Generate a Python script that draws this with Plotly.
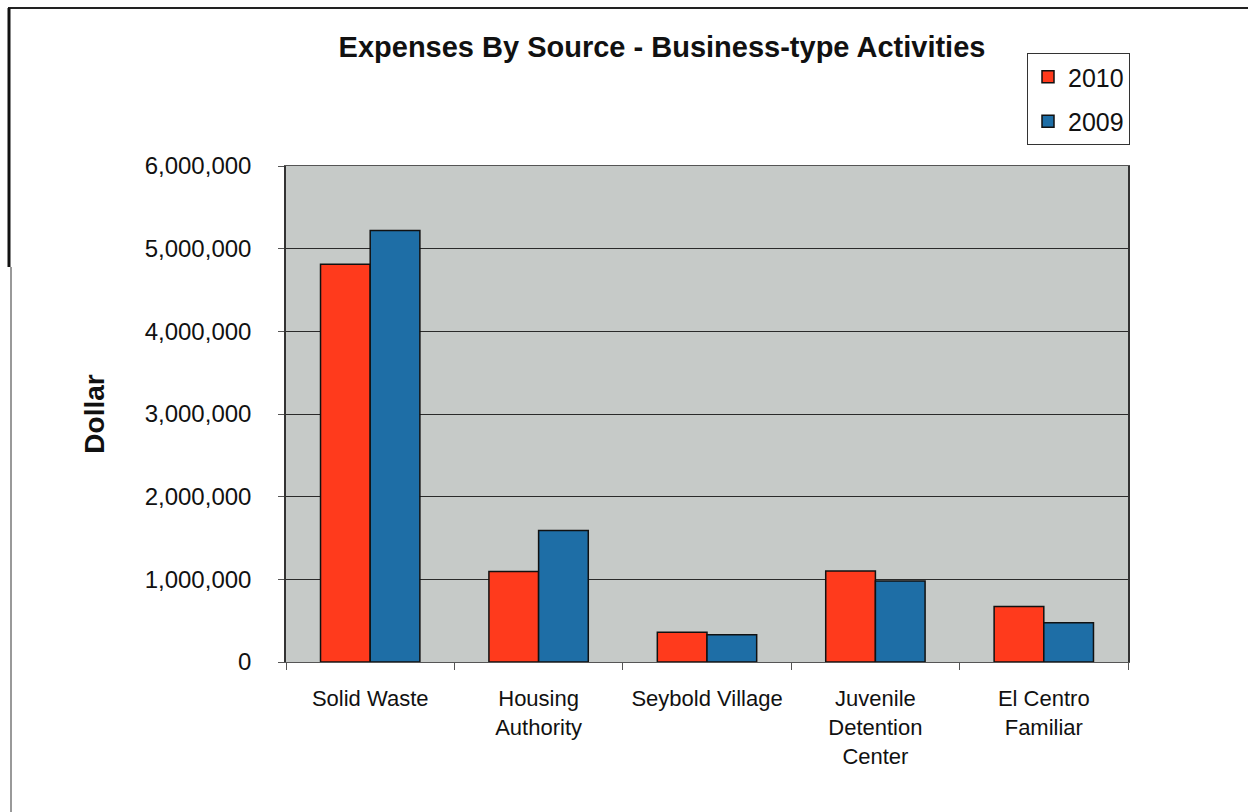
import plotly.graph_objects as go

categories = ["Solid Waste", "Housing<br>Authority", "Seybold Village",
              "Juvenile<br>Detention<br>Center", "El Centro<br>Familiar"]
series_names = ["2010", "2009"]
values_2010 = [4810000, 1095000, 360000, 1100000, 670000]
values_2009 = [5220000, 1590000, 330000, 980000, 475000]
y_tick_values = [0, 1000000, 2000000, 3000000, 4000000, 5000000, 6000000]

W, H = 1248, 812
L, R, T, B = 286, 1128, 166, 662

def px_x(x):
    return (x - L) / (R - L)

def px_y(y):
    return (B - y) / (B - T)

FONT = "Liberation Sans, Arial, sans-serif"

fig = go.Figure()
fig.add_trace(go.Bar(
    x=categories, y=values_2010, name=series_names[0], legendgroup="a",
    marker=dict(color="#ff3a1c", line=dict(color="#111111", width=1.5)),
))
fig.add_trace(go.Bar(
    x=categories, y=values_2009, name=series_names[1], legendgroup="b",
    marker=dict(color="#1e6ea6", line=dict(color="#111111", width=1.5)),
))

shapes = [
    dict(type="line", xref="paper", yref="paper", x0=px_x(8), x1=px_x(1248),
         y0=px_y(8), y1=px_y(8), line=dict(color="#222222", width=2)),
    dict(type="line", xref="paper", yref="paper", x0=px_x(9), x1=px_x(9),
         y0=px_y(8), y1=px_y(267), line=dict(color="#111111", width=3)),
    dict(type="line", xref="paper", yref="paper", x0=px_x(11), x1=px_x(11),
         y0=px_y(267), y1=px_y(812), line=dict(color="#777777", width=1.5)),
]

fig.update_layout(
    width=W, height=H,
    margin=dict(l=L, r=W - R, t=T, b=H - B, autoexpand=False),
    paper_bgcolor="white",
    plot_bgcolor="#c6cac8",
    barmode="group",
    bargap=0.41,
    bargroupgap=0.0,
    font=dict(family=FONT, color="#111111"),
    title=dict(text="<b>Expenses By Source - Business-type Activities</b>",
               xref="container", x=662 / W, xanchor="center",
               yref="container", y=1 - 47 / H, yanchor="middle",
               font=dict(size=29, family=FONT, color="#111111")),
    legend=dict(x=px_x(1027), y=px_y(53), xanchor="left", yanchor="top",
                bgcolor="white", bordercolor="#333333", borderwidth=1,
                font=dict(size=25, family=FONT, color="#111111"),
                tracegroupgap=9, itemwidth=30),
    shapes=shapes,
    showlegend=True,
)

fig.update_xaxes(
    type="category",
    showline=True, linecolor="#555555", linewidth=1, mirror=True,
    ticks="outside", tickson="boundaries", ticklen=7, tickcolor="#555555",
    ticklabelstandoff=17,
    tickfont=dict(size=22, family=FONT, color="#111111"),
    showgrid=False,
)
fig.update_yaxes(
    range=[0, 6000000],
    tickvals=y_tick_values,
    tickformat=",d",
    showline=True, linecolor="#333333", linewidth=1.5, mirror=True,
    ticks="outside", ticklen=6, tickcolor="#555555",
    ticklabelstandoff=22,
    tickfont=dict(size=24, family=FONT, color="#111111"),
    showgrid=True, gridcolor="#2a2a2a", gridwidth=1,
    zeroline=False,
    title=dict(text="<b>Dollar</b>", font=dict(size=28, family=FONT, color="#111111"),
               standoff=32),
)

fig.write_html("out.html")
